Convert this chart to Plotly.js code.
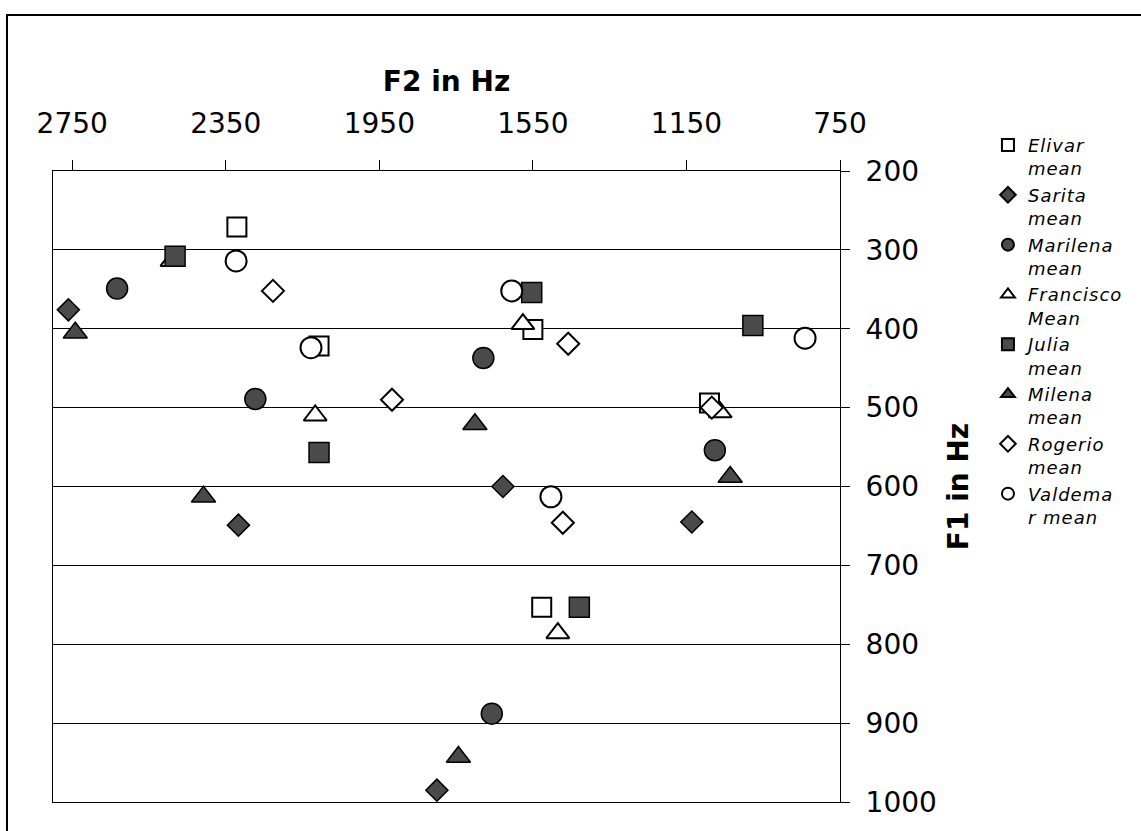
<!DOCTYPE html>
<html>
<head>
<meta charset="utf-8">
<script src="https://cdn.plot.ly/plotly-3.0.1.min.js"></script>
<style>
  html, body { margin: 0; padding: 0; background: #ffffff; }
  #frame { position: absolute; left: 6px; top: 14px; width: 1200px; height: 900px; border: 2px solid #000; box-sizing: border-box; }
  #chart { position: absolute; left: 0; top: 0; width: 1141px; height: 831px; }
  #chart .legendtext { letter-spacing: 1px; }
  #chart g.legend g.scrollbox { clip-path: none !important; }
</style>
</head>
<body>
<div id="frame"></div>
<div id="chart"></div>
<script>
// F2 (Hz) and F1 (Hz) means per speaker
const elivarF2    = [2321, 2107, 1550, 1090, 1527];
const elivarF1    = [271, 422, 401, 494, 753];
const saritaF2    = [2760, 2317, 1628, 1136, 1800];
const saritaF1    = [376, 649, 600, 645, 985];
const marilenaF2  = [2633, 2273, 1679, 1076, 1657];
const marilenaF1  = [349, 489, 437, 554, 888];
const franciscoF2 = [2490, 2117, 1576, 1062, 1485];
const franciscoF1 = [314, 510, 394, 506, 786];
const juliaF2     = [2482, 2107, 1553, 977, 1429];
const juliaF1     = [308, 557, 354, 396, 753];
const milenaF2    = [2742, 2408, 1701, 1036, 1744];
const milenaF1    = [405, 613, 521, 588, 943];
const rogerioF2   = [2227, 1917, 1458, 1084, 1472];
const rogerioF1   = [352, 490, 419, 500, 646];
const valdemarF2  = [2323, 2128, 1605, 841, 1503];
const valdemarF1  = [314, 424, 352, 412, 613];

const seriesNames = ["Elivar<br>mean", "Sarita<br>mean", "Marilena<br>mean", "Francisco<br>Mean",
                     "Julia<br>mean", "Milena<br>mean", "Rogerio<br>mean", "Valdema<br>r mean"];
const f2TickVals = [2750, 2350, 1950, 1550, 1150, 750];

const FILL = "#4a4a4a";
const OPEN = "#ffffff";
const styles = [
  {symbol: "square",       size: 19, color: OPEN, lw: 2},
  {symbol: "diamond",      size: 17, color: FILL, lw: 1.5},
  {symbol: "circle",       size: 21, color: FILL, lw: 1.5},
  {symbol: "triangle-up",  size: 20, color: OPEN, lw: 2},
  {symbol: "square",       size: 20, color: FILL, lw: 1.5},
  {symbol: "triangle-up",  size: 21, color: FILL, lw: 1.5},
  {symbol: "diamond",      size: 17, color: OPEN, lw: 2},
  {symbol: "circle",       size: 21, color: OPEN, lw: 2}
];
const xs = [elivarF2, saritaF2, marilenaF2, franciscoF2, juliaF2, milenaF2, rogerioF2, valdemarF2];
const ys = [elivarF1, saritaF1, marilenaF1, franciscoF1, juliaF1, milenaF1, rogerioF1, valdemarF1];

const traces = seriesNames.map((name, i) => ({
  type: "scatter",
  mode: "markers",
  name: name,
  x: xs[i],
  y: ys[i],
  marker: {
    symbol: styles[i].symbol,
    size: styles[i].size,
    color: styles[i].color,
    line: {color: "#000000", width: styles[i].lw}
  },
  cliponaxis: false
}));

const FONT = "DejaVu Sans, Verdana, sans-serif";
const layout = {
  width: 1141,
  height: 831,
  paper_bgcolor: "rgba(0,0,0,0)",
  plot_bgcolor: "#ffffff",
  margin: {l: 53, r: 301, t: 171, b: 29, pad: 0},
  font: {family: FONT, color: "#000000"},
  showlegend: true,
  legend: {
    x: 1.188, xanchor: "left",
    y: 1.07, yanchor: "top",
    valign: "top",
    itemsizing: "constant",
    maxheight: 900,
    font: {family: FONT, size: 18, style: "italic", color: "#000000"},
    bgcolor: "rgba(0,0,0,0)",
    borderwidth: 0
  },
  xaxis: {
    side: "top",
    range: [2800, 750],
    tickmode: "array",
    tickvals: f2TickVals,
    ticktext: f2TickVals.map(String),
    ticks: "outside",
    ticklen: 10,
    tickwidth: 1,
    tickcolor: "#000000",
    tickfont: {family: FONT, size: 28, color: "#000000"},
    ticklabelstandoff: 16,
    showgrid: false,
    zeroline: false,
    showline: true,
    linecolor: "#000000",
    linewidth: 1,
    mirror: true,
    automargin: false,
    title: {text: "F2 in Hz", font: {family: FONT, size: 28, weight: "bold", color: "#000000"}, standoff: 6}
  },
  yaxis: {
    side: "right",
    range: [1000, 200],
    tick0: 200,
    dtick: 100,
    ticks: "outside",
    ticklen: 9,
    tickwidth: 1,
    tickcolor: "#000000",
    tickfont: {family: FONT, size: 28, color: "#000000"},
    ticklabelstandoff: 10,
    showgrid: true,
    gridcolor: "#000000",
    gridwidth: 1,
    zeroline: false,
    showline: true,
    linecolor: "#000000",
    linewidth: 1,
    mirror: true,
    automargin: false,
    title: {text: "F1 in Hz", font: {family: FONT, size: 28, weight: "bold", color: "#000000"}, standoff: 12}
  }
};

Plotly.newPlot("chart", traces, layout, {displayModeBar: false, staticPlot: true});
</script>
</body>
</html>
